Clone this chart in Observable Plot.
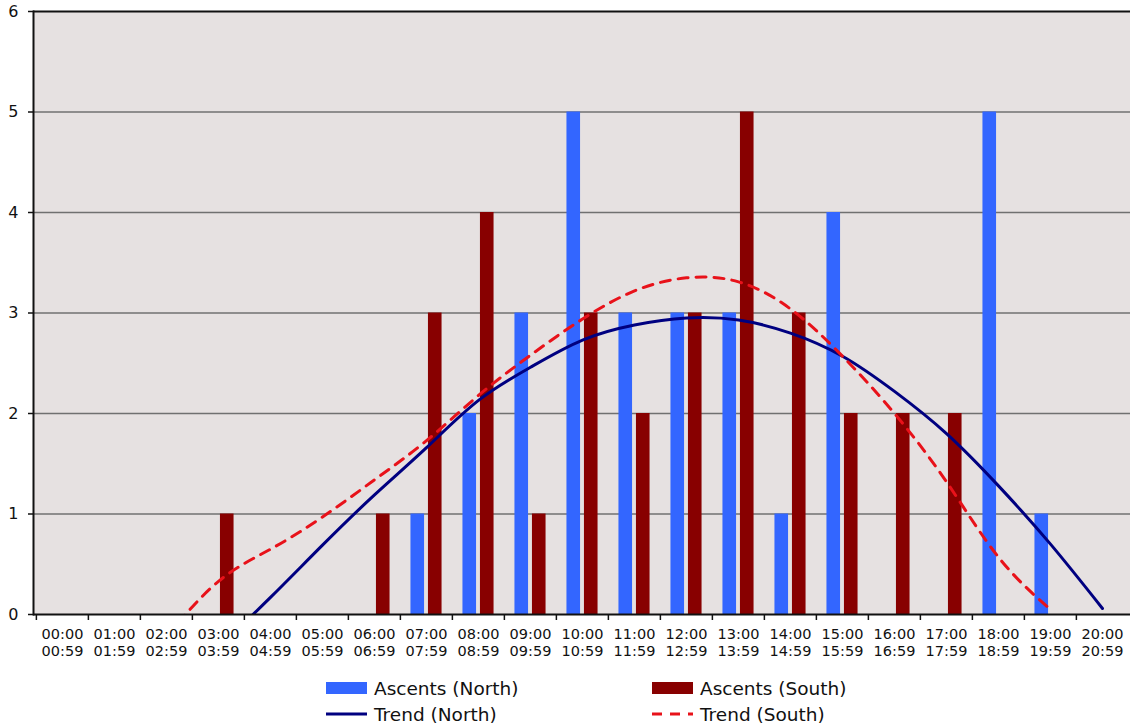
<!DOCTYPE html>
<html>
<head>
<meta charset="utf-8">
<script src="https://cdn.jsdelivr.net/npm/d3@7"></script>
<script src="https://cdn.jsdelivr.net/npm/@observablehq/plot@0.6"></script>
<style>
  html, body { margin: 0; padding: 0; background: #fff; }
  body { width: 1130px; height: 728px; position: relative; font-family: "DejaVu Sans", Verdana, sans-serif; overflow: hidden; }
  #chart { position: absolute; left: 0; top: 0; }
  .legend { position: absolute; font-size: 18.5px; color: #111; display: flex; align-items: center; white-space: nowrap; }
  .legend svg { margin-right: 7px; }
</style>
</head>
<body>
<div id="chart"></div>
<div id="legend"></div>
<script>
// Hour bands (start / end labels)
const startLabels = ["00:00","01:00","02:00","03:00","04:00","05:00","06:00","07:00","08:00","09:00","10:00","11:00","12:00","13:00","14:00","15:00","16:00","17:00","18:00","19:00","20:00"];
const endLabels   = ["00:59","01:59","02:59","03:59","04:59","05:59","06:59","07:59","08:59","09:59","10:59","11:59","12:59","13:59","14:59","15:59","16:59","17:59","18:59","19:59","20:59"];

// Ascents per hour
const northAscents = [0,0,0,0,0,0,0,1,2,3,5,3,3,3,1,4,0,0,5,1,0];
const southAscents = [0,0,0,1,0,0,1,3,4,1,3,2,3,5,3,2,2,2,0,0,0];

// Trend lines (values read at each hour band)
const trendNorthHours = ["03:00","04:00","05:00","06:00","07:00","08:00","09:00","10:00","11:00","12:00","13:00","14:00","15:00","16:00","17:00","18:00","19:00","20:00"];
const trendNorthValues = [-0.33,0.17,0.69,1.19,1.66,2.13,2.46,2.73,2.88,2.95,2.93,2.80,2.57,2.22,1.80,1.28,0.70,0.06];
const trendSouthHours = ["02:00","03:00","04:00","05:00","06:00","07:00","08:00","09:00","10:00","11:00","12:00","13:00","14:00","15:00","16:00","17:00","18:00","19:00"];
const trendSouthValues = [-0.22,0.33,0.65,0.97,1.34,1.73,2.18,2.58,2.94,3.22,3.35,3.31,3.04,2.57,2.00,1.32,0.57,0.05];

const yTicks = [0,1,2,3,4,5,6];
const gridTicks = [1,2,3,4,5];

const seriesNames = ["Ascents (North)","Ascents (South)","Trend (North)","Trend (South)"];
const colors = {north: "#3366ff", south: "#880000", trendNorth: "#000080", trendSouth: "#e8121a"};

const width = 1130, height = 665;
const marginLeft = 33, marginRight = 0, marginTop = 11, marginBottom = 51;
const bw = (width - marginLeft - marginRight) / startLabels.length;

const northData = startLabels.map((h, i) => ({hour: h, value: northAscents[i]})).filter(d => d.value > 0);
const southData = startLabels.map((h, i) => ({hour: h, value: southAscents[i]})).filter(d => d.value > 0);
const trendNorth = trendNorthHours.map((h, i) => ({hour: h, value: trendNorthValues[i]}));
const trendSouth = trendSouthHours.map((h, i) => ({hour: h, value: trendSouthValues[i]}));
const endOf = Object.fromEntries(startLabels.map((s, i) => [s, endLabels[i]]));

const chart = Plot.plot({
  width, height, marginLeft, marginRight, marginTop, marginBottom,
  style: {fontFamily: "DejaVu Sans, Verdana, sans-serif", background: "#fff", color: "#111"},
  x: {type: "band", domain: startLabels, paddingInner: 0, paddingOuter: 0, label: null},
  y: {domain: [0, 6], label: null},
  marks: [
    Plot.frame({fill: "#e6e1e1", stroke: null}),
    Plot.ruleY(gridTicks, {stroke: "#707070", strokeWidth: 1.5}),
    Plot.barY(northData, {x: "hour", y: "value", fill: colors.north, insetLeft: bw * 0.2, insetRight: bw * 0.535}),
    Plot.barY(southData, {x: "hour", y: "value", fill: colors.south, insetLeft: bw * 0.535, insetRight: bw * 0.2}),
    Plot.line(trendNorth, {x: "hour", y: "value", stroke: colors.trendNorth, strokeWidth: 3, curve: "natural", clip: true}),
    Plot.line(trendSouth, {x: "hour", y: "value", stroke: colors.trendSouth, strokeWidth: 3, strokeDasharray: "10,8", curve: "natural", clip: true}),
    Plot.ruleY([6], {stroke: "#111", strokeWidth: 2}),
    Plot.ruleY([0], {stroke: "#111", strokeWidth: 2}),
    Plot.frame({anchor: "left", stroke: "#111", strokeWidth: 2}),
    Plot.axisY({ticks: yTicks, tickFormat: d3.format("d"), tickSize: 5, tickPadding: 10, fontSize: 16, stroke: "#111", strokeWidth: 1.5, label: null}),
    Plot.axisX({ticks: startLabels, tickSize: 6, text: null, dx: -bw / 2, stroke: "#111", strokeWidth: 1.5}),
    Plot.axisX({ticks: startLabels, tickSize: 0, tickPadding: 12, fontSize: 14.5, lineHeight: 1.17, tickFormat: d => d + "\n" + endOf[d], label: null})
  ]
});
document.getElementById("chart").appendChild(chart);

// Legend
const legendItems = [
  {name: seriesNames[0], type: "bar", color: colors.north, left: 326, top: 688},
  {name: seriesNames[1], type: "bar", color: colors.south, left: 652, top: 688},
  {name: seriesNames[2], type: "line", color: colors.trendNorth, left: 326, top: 714},
  {name: seriesNames[3], type: "dash", color: colors.trendSouth, left: 652, top: 714}
];
const legend = document.getElementById("legend");
for (const it of legendItems) {
  const div = document.createElement("div");
  div.className = "legend";
  div.style.left = it.left + "px";
  div.style.top = (it.top - 12) + "px";
  div.style.height = "24px";
  let sw;
  if (it.type === "bar") sw = `<svg width="41" height="12"><rect x="0" y="0" width="41" height="12" fill="${it.color}"/></svg>`;
  else if (it.type === "line") sw = `<svg width="41" height="12"><line x1="0" x2="41" y1="6" y2="6" stroke="${it.color}" stroke-width="3"/></svg>`;
  else sw = `<svg width="41" height="12"><line x1="0" x2="41" y1="6" y2="6" stroke="${it.color}" stroke-width="3" stroke-dasharray="10,8"/></svg>`;
  div.innerHTML = sw + `<span>${it.name}</span>`;
  legend.appendChild(div);
}
</script>
</body>
</html>
